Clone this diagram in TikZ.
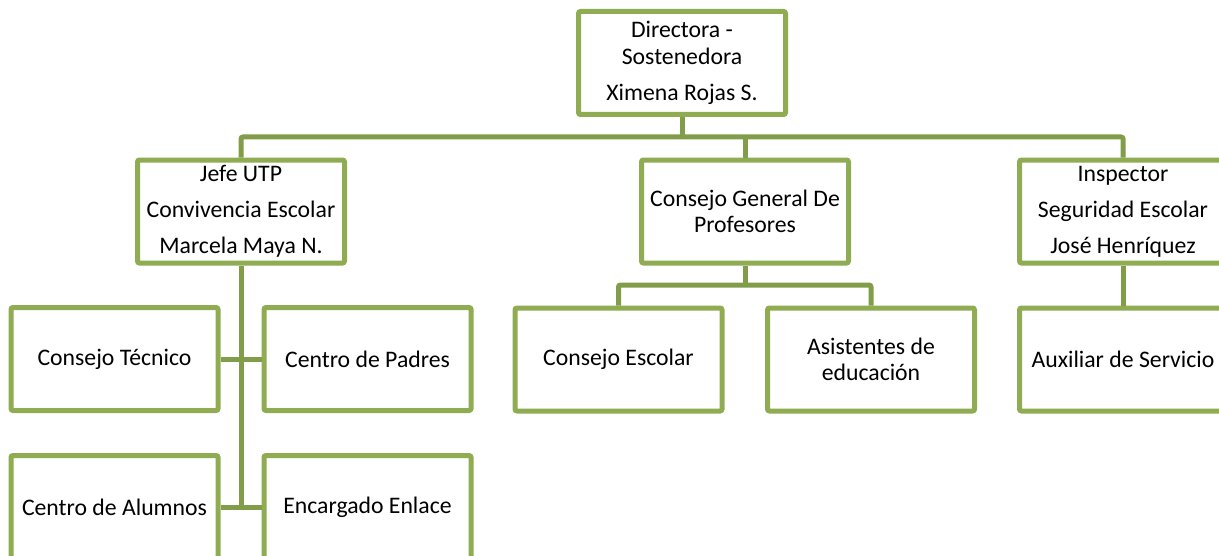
\documentclass[tikz,border=0pt]{standalone}
\usepackage{fontspec}
\setmainfont{Carlito}
\definecolor{boxc}{RGB}{143,172,82}
\definecolor{linec}{RGB}{129,157,73}
\begin{document}
\begin{tikzpicture}[x=0.75pt,y=-0.75pt,
  orgbox/.style={draw=boxc, line width=3.75pt, rounded corners=1.5pt, fill=white,
    minimum width=155.25pt, minimum height=77.25pt, inner sep=0pt,
    align=center, font=\fontsize{17.8pt}{19.8pt}\selectfont, text=black},
  conn/.style={draw=linec, line width=3.75pt, rounded corners=1.5pt}]
\useasboundingbox (0,0) rectangle (1219,556);
\node[orgbox] (dir) at (682,63) {Directora -\\Sostenedora\\[7.5pt]Ximena Rojas S.};
\node[orgbox] (jefe) at (241,211.5) {Jefe UTP\\[7.2pt]Convivencia Escolar\\[7.2pt]Marcela Maya N.};
\node[orgbox] (cgp) at (745,211.5) {Consejo General De\\Profesores};
\node[orgbox] (insp) at (1123,211.5) {Inspector\\[7.2pt]Seguridad Escolar\\[7.2pt]José Henríquez};
\node[orgbox] (ct) at (114.5,359) {Consejo Técnico};
\node[orgbox] (cp) at (367.5,359) {Centro de Padres};
\node[orgbox] (ce) at (618.5,359.5) {Consejo Escolar};
\node[orgbox] (ae) at (871,359.5) {Asistentes de\\educación};
\node[orgbox] (aux) at (1123,359.5) {Auxiliar de Servicio};
\node[orgbox] (ca) at (114.5,507) {Centro de Alumnos};
\node[orgbox] (ee) at (367.5,507) {Encargado Enlace};
\coordinate (bus) at (682,137);
\coordinate (bus2) at (745,285);
\draw[conn] (dir.south) -- (bus);
\draw[conn] (jefe.north) |- (bus) -| (insp.north);
\draw[conn] (cgp.north) -- (cgp.north |- bus);
\draw[conn] (cgp.south) -- (bus2);
\draw[conn] (ce.north) |- (bus2) -| (ae.north);
\draw[conn] (insp.south) -- (aux.north);
\draw[conn] (jefe.south) -- (jefe.south |- ca.east);
\draw[conn] (ct.east) -- (cp.west);
\draw[conn] (ca.east) -- (ee.west);
\end{tikzpicture}
\end{document}
